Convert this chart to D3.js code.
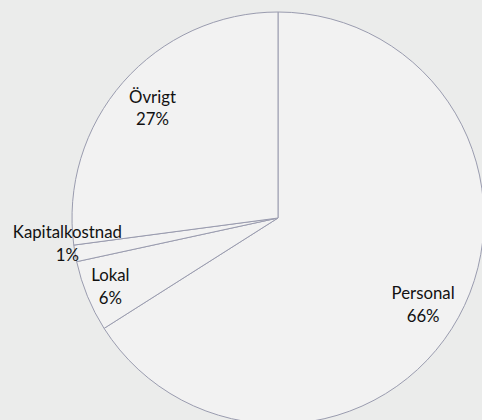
<!DOCTYPE html>
<html>
<head>
<meta charset="utf-8">
<script src="https://cdn.jsdelivr.net/npm/d3@7"></script>
<style>
  html, body { margin: 0; padding: 0; background: #ebeceb; }
  svg { display: block; }
</style>
</head>
<body>
<svg id="chart" width="482" height="420"></svg>
<script>
// data (percent shares)
const categories = ['Personal', 'Lokal', 'Kapitalkostnad', 'Övrigt'];
const values = [66.0, 5.6, 1.3, 27.1];
const labels = ['66%', '6%', '1%', '27%'];

const svg = d3.select('svg#chart');
const width = +svg.attr('width');
const height = +svg.attr('height');
const cx = 278, cy = 218, radius = 206;

// label placement, as fraction of radius (Excel "best fit" look)
const labelPos = {
  'Personal': {r: 0.82, da: 2},
  'Lokal': {r: 0.88, da: 0},
  'Kapitalkostnad': {r: 1.03, da: 3},
  'Övrigt': {r: 0.81, da: 0}
};

const data = categories.map((c, i) => ({name: c, value: values[i], label: labels[i]}));

const pie = d3.pie().sort(null).value(d => d.value);
const arc = d3.arc().innerRadius(0).outerRadius(radius);

const g = svg.append('g').attr('transform', `translate(${cx},${cy})`);

const arcs = pie(data);

g.selectAll('path.slice')
  .data(arcs)
  .join('path')
  .attr('class', 'slice')
  .attr('d', arc)
  .attr('fill', '#f2f2f2')
  .attr('stroke', '#9a9caf')
  .attr('stroke-width', 1)
  .attr('stroke-linejoin', 'round');

const fontSize = 16.8, lineH = 22.5;

const lbl = g.selectAll('text.lbl')
  .data(arcs)
  .join('text')
  .attr('class', 'lbl')
  .attr('font-family', 'Lato, "Open Sans", sans-serif')
  .attr('font-size', fontSize)
  .attr('fill', '#111')
  .attr('text-anchor', 'middle')
  .attr('transform', d => {
    const p = labelPos[d.data.name];
    const a = (d.startAngle + d.endAngle) / 2 + p.da * Math.PI / 180;
    const r = radius * p.r;
    return `translate(${Math.sin(a) * r},${-Math.cos(a) * r})`;
  });

lbl.append('tspan')
  .attr('x', 0)
  .attr('y', -lineH / 2 + fontSize * 0.35)
  .text(d => d.data.name);

lbl.append('tspan')
  .attr('x', 0)
  .attr('y', lineH / 2 + fontSize * 0.35)
  .text(d => d.data.label);
</script>
</body>
</html>
